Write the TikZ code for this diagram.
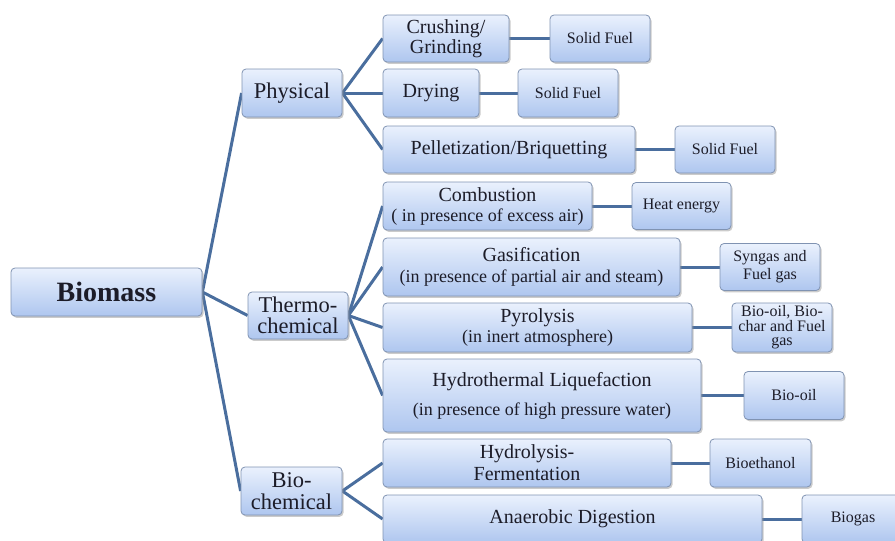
\documentclass[tikz,border=0pt]{standalone}
\usepackage{fontspec}
\setmainfont{Liberation Serif}
\newfontfamily\tnr{Liberation Serif}
\usetikzlibrary{shadows,backgrounds}
\definecolor{linkc}{HTML}{4A6E9E}
\definecolor{boxtop}{HTML}{EAF1FD}
\definecolor{boxbot}{HTML}{AEC6EF}
\definecolor{boxedge}{HTML}{8093B2}
\definecolor{txt}{HTML}{1C1C28}
\tikzset{
  box/.style={draw=boxedge, line width=0.8pt, rounded corners=4pt,
    top color=boxtop, bottom color=boxbot, inner sep=0pt, align=center,
    text=txt, drop shadow={shadow xshift=1.5pt, shadow yshift=-1.8pt, fill=black!45, opacity=0.45}},
  lvlone/.style={box, font=\tnr\fontsize{28}{30}\selectfont\bfseries},
  lvltwo/.style={box, font=\tnr\fontsize{22.5}{21.5}\selectfont},
  lvlthree/.style={box, font=\tnr\fontsize{20}{20}\selectfont},
  prod/.style={box, font=\tnr\fontsize{16}{18}\selectfont},
  link/.style={draw=linkc, line width=3pt}
}
\newcommand{\subtxt}[1]{{\fontsize{18}{20}\selectfont #1}}
\begin{document}
\begin{tikzpicture}[x=1pt,y=-1pt]
\useasboundingbox (0,0) rectangle (895,541);
% level one / two
\node[lvlone, minimum width=191pt, minimum height=48pt] (bio) at (106.5,292) {Biomass};
\node[lvltwo, minimum width=100pt, minimum height=48pt] (phys) at (292,93) {Physical};
\node[lvltwo, minimum width=100pt, minimum height=47pt] (thermo) at (298,315.5) {Thermo-\\chemical};
\node[lvltwo, minimum width=101pt, minimum height=48pt] (biochem) at (291.5,491) {Bio-\\chemical};
% processes
\node[lvlthree, minimum width=126pt, minimum height=47pt] (crush) at (446,38.5) {Crushing/\\Grinding};
\node[lvlthree, minimum width=96pt, minimum height=48pt] (dry) at (431,93) {\raisebox{3pt}{Drying}};
\node[lvlthree, minimum width=252pt, minimum height=47pt] (pellet) at (509,149.5) {Pelletization/Briquetting};
\node[lvlthree, minimum width=209pt, minimum height=48pt] (comb) at (487.5,206) {Combustion\\\subtxt{( in presence of excess air)}};
\node[lvlthree, minimum width=297pt, minimum height=58pt] (gasif) at (531.5,267) {Gasification\\[1pt]\subtxt{(in presence of partial air and steam)}};
\node[lvlthree, minimum width=309pt, minimum height=49pt] (pyro) at (537.5,327.5) {Pyrolysis\\\subtxt{(in inert atmosphere)}};
\node[lvlthree, minimum width=318pt, minimum height=73pt] (hydro) at (542,395.5) {Hydrothermal Liquefaction\\[9pt]\subtxt{(in presence of high pressure water)}};
\node[lvlthree, minimum width=288pt, minimum height=48pt] (hydrol) at (527,463) {Hydrolysis-\\[2pt]Fermentation};
\node[lvlthree, minimum width=379pt, minimum height=48pt] (anaer) at (572.5,519) {Anaerobic Digestion};
% products
\node[prod, minimum width=100pt, minimum height=47pt] (sfa) at (600,38.5) {Solid Fuel};
\node[prod, minimum width=100pt, minimum height=48pt] (sfb) at (568,93) {Solid Fuel};
\node[prod, minimum width=100pt, minimum height=47pt] (sfc) at (725,149.5) {Solid Fuel};
\node[prod, minimum width=99pt, minimum height=47pt] (heat) at (681.5,206) {Heat energy};
\node[prod, minimum width=100pt, minimum height=47pt] (syn) at (770,267) {Syngas and\\Fuel gas};
\node[prod, minimum width=100pt, minimum height=49pt, font=\tnr\fontsize{16}{14.5}\selectfont] (boc) at (782,327.5) {Bio-oil, Bio-\\char and Fuel\\gas};
\node[prod, minimum width=100pt, minimum height=48pt] (boil) at (794,395.5) {Bio-oil};
\node[prod, minimum width=101pt, minimum height=48pt] (beth) at (760.5,463) {Bioethanol};
\node[prod, minimum width=102pt, minimum height=48pt] (bgas) at (853,519) {Biogas};
\begin{pgfonlayer}{background}
\draw[link] (bio.east) -- (phys.west);
\draw[link] (bio.east) -- (thermo.west);
\draw[link] (bio.east) -- (biochem.west);
\draw[link] (phys.east) -- (crush.west);
\draw[link] (phys.east) -- (dry.west);
\draw[link] (phys.east) -- (pellet.west);
\draw[link] (thermo.east) -- (comb.west);
\draw[link] (thermo.east) -- (gasif.west);
\draw[link] (thermo.east) -- (pyro.west);
\draw[link] (thermo.east) -- (hydro.west);
\draw[link] (biochem.east) -- (hydrol.west);
\draw[link] (biochem.east) -- (anaer.west);
\draw[link] (crush.east) -- (sfa.west);
\draw[link] (dry.east) -- (sfb.west);
\draw[link] (pellet.east) -- (sfc.west);
\draw[link] (comb.east) -- (heat.west);
\draw[link] (gasif.east) -- (syn.west);
\draw[link] (pyro.east) -- (boc.west);
\draw[link] (hydro.east) -- (boil.west);
\draw[link] (hydrol.east) -- (beth.west);
\draw[link] (anaer.east) -- (bgas.west);
\end{pgfonlayer}
\end{tikzpicture}
\end{document}
